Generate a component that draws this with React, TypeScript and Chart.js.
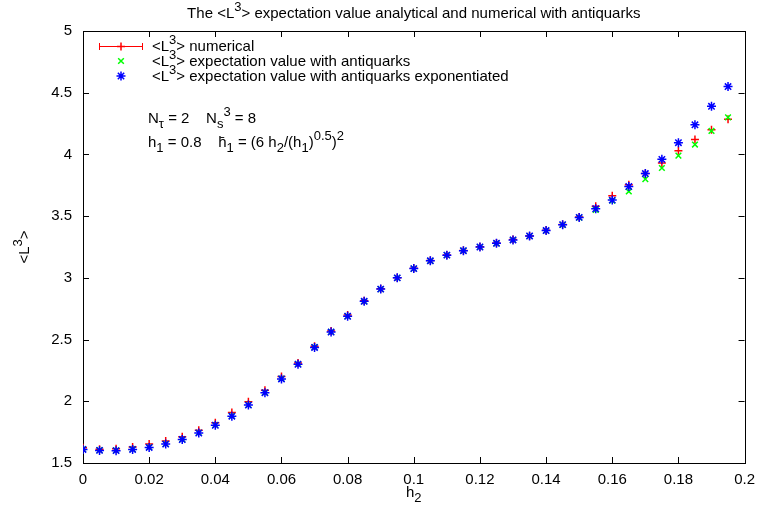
import { useEffect, useRef } from "react";
import { Chart, registerables } from "chart.js";

Chart.register(...registerables);

const h2 = [
  0, 0.005, 0.01, 0.015, 0.02, 0.025, 0.03, 0.035, 0.04, 0.045,
  0.05, 0.055, 0.06, 0.065, 0.07, 0.075, 0.08, 0.085, 0.09, 0.095,
  0.1, 0.105, 0.11, 0.115, 0.12, 0.125, 0.13, 0.135, 0.14, 0.145,
  0.15, 0.155, 0.16, 0.165, 0.17, 0.175, 0.18, 0.185, 0.19, 0.195,
];

const numerical = [
  1.623, 1.612, 1.615, 1.629, 1.653, 1.678, 1.712, 1.765, 1.827, 1.909,
  1.996, 2.09, 2.2, 2.31, 2.445, 2.57, 2.7, 2.815, 2.912, 3.0,
  3.078, 3.14, 3.185, 3.222, 3.252, 3.282, 3.31, 3.34, 3.385, 3.432,
  3.493, 3.58, 3.665, 3.755, 3.845, 3.93, 4.03, 4.12, 4.2, 4.285,
];

const antiquarks = [
  1.612, 1.604, 1.602, 1.612, 1.628, 1.655, 1.692, 1.745, 1.808, 1.881,
  1.971, 2.071, 2.183, 2.302, 2.438, 2.562, 2.69, 2.81, 2.909, 3.0,
  3.075, 3.138, 3.184, 3.22, 3.25, 3.28, 3.307, 3.339, 3.383, 3.43,
  3.488, 3.55, 3.625, 3.7, 3.8, 3.89, 3.99, 4.08, 4.19, 4.3,
];

const exponentiated = [
  1.61, 1.602, 1.6, 1.61, 1.626, 1.653, 1.69, 1.743, 1.806, 1.879,
  1.969, 2.069, 2.181, 2.3, 2.436, 2.561, 2.689, 2.81, 2.909, 3.0,
  3.075, 3.138, 3.184, 3.22, 3.25, 3.28, 3.307, 3.339, 3.383, 3.431,
  3.49, 3.56, 3.63, 3.74, 3.845, 3.96, 4.095, 4.24, 4.39, 4.55,
];

const xTicks = [0, 0.02, 0.04, 0.06, 0.08, 0.1, 0.12, 0.14, 0.16, 0.18, 0.2];
const yTicks = [1.5, 2, 2.5, 3, 3.5, 4, 4.5, 5];

const FAM = '"Liberation Sans", Arial, sans-serif';

type Seg = [string, number]; // 0 normal, 1 sup, -1 sub

function richWidth(ctx: CanvasRenderingContext2D, segs: Seg[], size: number) {
  let w = 0;
  for (const [t, m] of segs) {
    ctx.font = `${m === 0 ? size : Math.round(size * 0.85)}px ${FAM}`;
    w += ctx.measureText(t).width;
  }
  return w;
}

function drawRich(
  ctx: CanvasRenderingContext2D,
  segs: Seg[],
  x: number,
  y: number,
  size: number,
  align: "left" | "center"
) {
  const w = richWidth(ctx, segs, size);
  let cx = align === "center" ? x - w / 2 : x;
  ctx.textAlign = "left";
  ctx.textBaseline = "alphabetic";
  ctx.fillStyle = "#000";
  for (const [t, m] of segs) {
    ctx.font = `${m === 0 ? size : Math.round(size * 0.85)}px ${FAM}`;
    const dy = m === 1 ? -size * 0.45 : m === -1 ? size * 0.3 : 0;
    ctx.fillText(t, cx, y + dy);
    cx += ctx.measureText(t).width;
  }
}

const titleSegs: Seg[] = [
  ["The <L", 0],
  ["3", 1],
  ["> expectation value analytical and numerical with antiquarks", 0],
];
const legendTexts: Seg[][] = [
  [["<L", 0], ["3", 1], ["> numerical", 0]],
  [["<L", 0], ["3", 1], ["> expectation value with antiquarks", 0]],
  [["<L", 0], ["3", 1], ["> expectation value with antiquarks exponentiated", 0]],
];
const note1: Seg[] = [
  ["N", 0], ["τ", -1], [" = 2    N", 0], ["s", -1], ["3", 1], [" = 8", 0],
];
const note2: Seg[] = [
  ["h", 0], ["1", -1], [" = 0.8    h\u0304", 0], ["1", -1], [" = (6 h", 0], ["2", -1],
  ["/(h", 0], ["1", -1], [")", 0], ["0.5", 1], [")", 0], ["2", 1],
];
const yTitle: Seg[] = [["<L", 0], ["3", 1], [">", 0]];
const xTitle: Seg[] = [["h", 0], ["2", -1]];

function drawPt(ctx: CanvasRenderingContext2D, c: string, style: string, r: number, x: number, y: number) {
  ctx.save();
  ctx.strokeStyle = c;
  ctx.lineWidth = 1.5;
  const d = r * Math.SQRT1_2;
  ctx.beginPath();
  if (style === "cross" || style === "star") {
    ctx.moveTo(x - r, y);
    ctx.lineTo(x + r, y);
    ctx.moveTo(x, y - r);
    ctx.lineTo(x, y + r);
  }
  if (style === "crossRot" || style === "star") {
    ctx.moveTo(x - d, y - d);
    ctx.lineTo(x + d, y + d);
    ctx.moveTo(x - d, y + d);
    ctx.lineTo(x + d, y - d);
  }
  ctx.stroke();
  ctx.restore();
}

const framePlugin = {
  id: "frame",
  beforeDatasetsDraw(chart: any) {
    const { ctx, chartArea: a, scales } = chart;
    ctx.save();
    ctx.strokeStyle = "#000";
    ctx.lineWidth = 1;
    ctx.beginPath();
    for (const v of xTicks) {
      const px = Math.round(scales.x.getPixelForValue(v)) + 0.5;
      ctx.moveTo(px, a.bottom);
      ctx.lineTo(px, a.bottom - 6);
      ctx.moveTo(px, a.top);
      ctx.lineTo(px, a.top + 6);
    }
    for (const v of yTicks) {
      const py = Math.round(scales.y.getPixelForValue(v)) + 0.5;
      ctx.moveTo(a.left, py);
      ctx.lineTo(a.left + 6, py);
      ctx.moveTo(a.right, py);
      ctx.lineTo(a.right - 6, py);
    }
    ctx.stroke();
    ctx.strokeRect(
      Math.round(a.left) + 0.5,
      Math.round(a.top) + 0.5,
      Math.round(a.right - a.left),
      Math.round(a.bottom - a.top)
    );
    ctx.restore();
  },
  afterDraw(chart: any) {
    const { ctx, chartArea: a } = chart;
    ctx.save();
    const cx = (a.left + a.right) / 2;
    drawRich(ctx, titleSegs, cx, 18, 15, "center");
    drawRich(ctx, xTitle, cx, 497, 15, "center");
    ctx.save();
    ctx.translate(29, (a.top + a.bottom) / 2);
    ctx.rotate(-Math.PI / 2);
    drawRich(ctx, yTitle, 0, 0, 15, "center");
    ctx.restore();
    // legend
    const lx = 152;
    const ly = [46, 61, 76];
    legendTexts.forEach((s, i) => drawRich(ctx, s, lx, ly[i] + 5, 15, "left"));
    ctx.strokeStyle = "#ff0000";
    ctx.lineWidth = 1;
    ctx.beginPath();
    ctx.moveTo(99, ly[0] + 0.5);
    ctx.lineTo(143, ly[0] + 0.5);
    ctx.moveTo(99.5, ly[0] - 3);
    ctx.lineTo(99.5, ly[0] + 4);
    ctx.moveTo(142.5, ly[0] - 3);
    ctx.lineTo(142.5, ly[0] + 4);
    ctx.stroke();
    drawPt(ctx, "#ff0000", "cross", 4, 121, ly[0] + 0.5);
    drawPt(ctx, "#00ff00", "crossRot", 4, 121, ly[1]);
    drawPt(ctx, "#0000ff", "star", 4.5, 121, ly[2]);
    // annotation
    drawRich(ctx, note1, 148, 123, 15, "left");
    drawRich(ctx, note2, 148, 147, 15, "left");
    ctx.restore();
  },
};

function fmt(v: number) {
  return String(Number(v.toFixed(3)));
}

export default function App() {
  const ref = useRef<HTMLCanvasElement | null>(null);
  useEffect(() => {
    if (!ref.current) return;
    const mk = (vals: number[]) => h2.map((x, i) => ({ x, y: vals[i] }));
    const chart = new Chart(ref.current, {
      type: "scatter",
      data: {
        datasets: [
          {
            label: "numerical",
            data: mk(numerical),
            pointStyle: "cross",
            pointRadius: 4,
            borderColor: "#ff0000",
            backgroundColor: "#ff0000",
            borderWidth: 1.5,
            order: 2,
          },
          {
            label: "antiquarks",
            data: mk(antiquarks),
            pointStyle: "crossRot",
            pointRadius: 4,
            borderColor: "#00ff00",
            backgroundColor: "#00ff00",
            borderWidth: 1.5,
            order: 1,
          },
          {
            label: "exponentiated",
            data: mk(exponentiated),
            pointStyle: "star",
            pointRadius: 4.5,
            borderColor: "#0000ff",
            backgroundColor: "#0000ff",
            borderWidth: 1.5,
            order: 0,
          },
        ],
      },
      options: {
        responsive: false,
        animation: false,
        devicePixelRatio: 1,
        events: [],
        layout: { padding: { top: 31, right: 14, left: 0, bottom: 0 } },
        plugins: { legend: { display: false }, tooltip: { enabled: false }, title: { display: false } },
        scales: {
          x: {
            type: "linear",
            min: 0,
            max: 0.2,
            afterBuildTicks: (s: any) => {
              s.ticks = xTicks.map((v) => ({ value: v }));
            },
            afterFit: (s: any) => {
              s.height = 48;
            },
            grid: { display: false, drawTicks: false },
            border: { display: false },
            ticks: {
              autoSkip: false,
              maxRotation: 0,
              padding: 8,
              color: "#000",
              font: { family: FAM, size: 15 },
              callback: (v: any) => fmt(Number(v)),
            },
          },
          y: {
            type: "linear",
            min: 1.5,
            max: 5,
            afterBuildTicks: (s: any) => {
              s.ticks = yTicks.map((v) => ({ value: v }));
            },
            afterFit: (s: any) => {
              s.width = 83;
            },
            grid: { display: false, drawTicks: false },
            border: { display: false },
            ticks: {
              autoSkip: false,
              padding: 11,
              color: "#000",
              font: { family: FAM, size: 15 },
              callback: (v: any) => fmt(Number(v)),
            },
          },
        },
      } as any,
      plugins: [framePlugin],
    });
    return () => chart.destroy();
  }, []);
  return (
    <div style={{ position: "fixed", left: 0, top: 0, width: 763, height: 511, background: "#fff" }}>
      <canvas ref={ref} width={763} height={511} style={{ width: 763, height: 511 }} />
    </div>
  );
}
